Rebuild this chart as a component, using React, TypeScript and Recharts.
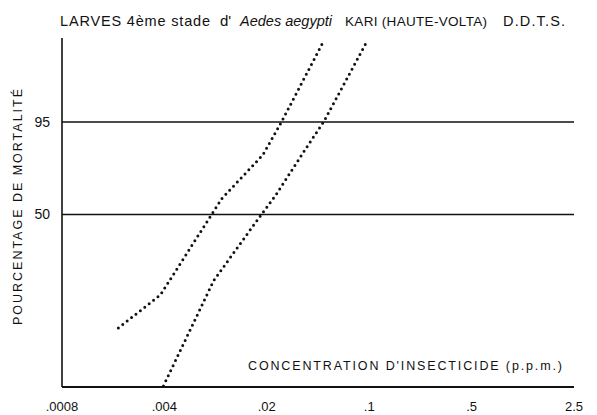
import { LineChart, Line, XAxis, YAxis, ReferenceLine } from 'recharts'

// log-probit plot: x = concentration (p.p.m.), y = mortality in probits (5 = 50 %)
const xTicks = [0.0008, 0.004, 0.02, 0.1, 0.5, 2.5]
const xTickLabels = ['.0008', '.004', '.02', '.1', '.5', '2.5']
const yTicks = [5, 6.645]
const yTickLabels = ['50', '95']

// larval population, left curve
const concA = [0.00194, 0.00376, 0.00984, 0.0188, 0.025, 0.0492]
const probitA = [2.98, 3.57, 5.28, 6.06, 6.63, 8.1]

// right curve
const concB = [0.00394, 0.00867, 0.01555, 0.0231, 0.0371, 0.0492, 0.097]
const probitB = [1.95, 3.82, 4.74, 5.35, 6.18, 6.66, 8.09]

const seriesA = concA.map((c, i) => ({ c, p: probitA[i] }))
const seriesB = concB.map((c, i) => ({ c, p: probitB[i] }))

const FONT = '"Liberation Sans", Arial, sans-serif'

function xLabel(v: number) {
  const i = xTicks.indexOf(v)
  return i >= 0 ? xTickLabels[i] : ''
}

function yLabel(v: number) {
  const i = yTicks.indexOf(v)
  return i >= 0 ? yTickLabels[i] : ''
}

export default function App() {
  return (
    <div style={{ position: 'absolute', left: 0, top: 0, width: 597, height: 415, background: '#fff' }}>
      <LineChart
        width={597}
        height={415}
        margin={{ top: 38, right: 23, bottom: 0, left: 0 }}
        style={{ fontFamily: FONT }}
      >
        <XAxis
          dataKey="c"
          type="number"
          scale="log"
          domain={[0.0008, 2.5]}
          ticks={xTicks}
          tickFormatter={xLabel}
          height={28}
          tickLine={false}
          tickSize={13}
          axisLine={{ stroke: '#111', strokeWidth: 1.8 }}
          tick={{ fontSize: 13, fill: '#111' }}
          allowDataOverflow
        />
        <YAxis
          type="number"
          domain={[1.93, 8.14]}
          ticks={yTicks}
          tickFormatter={yLabel}
          width={62}
          tickLine={false}
          tickSize={10}
          axisLine={{ stroke: '#111', strokeWidth: 1.6 }}
          tick={{ fontSize: 14, fill: '#111' }}
          allowDataOverflow
        />
        <ReferenceLine y={5} stroke="#111" strokeWidth={1.6} />
        <ReferenceLine y={6.645} stroke="#111" strokeWidth={1.6} />
        <Line
          data={seriesA}
          dataKey="p"
          type="linear"
          stroke="#111"
          strokeWidth={3}
          strokeDasharray="0 5.6"
          strokeLinecap="round"
          dot={false}
          isAnimationActive={false}
        />
        <Line
          data={seriesB}
          dataKey="p"
          type="linear"
          stroke="#111"
          strokeWidth={3}
          strokeDasharray="0 5.6"
          strokeLinecap="round"
          dot={false}
          isAnimationActive={false}
        />
      </LineChart>
      <svg
        width={597}
        height={415}
        style={{ position: 'absolute', left: 0, top: 0, pointerEvents: 'none', fontFamily: FONT }}
      >
        <g fill="#111" fontSize={14.5}>
          <text x={60} y={26} textLength={150} lengthAdjust="spacing">LARVES 4ème stade</text>
          <text x={220} y={26} fontSize={15}>d'</text>
          <text x={240} y={26} fontStyle="italic" textLength={92} lengthAdjust="spacing">
            Aedes aegypti
          </text>
          <text x={345} y={26} fontSize={13.5} textLength={142} lengthAdjust="spacing">
            KARI (HAUTE-VOLTA)
          </text>
          <text x={503} y={26} textLength={62} lengthAdjust="spacing">D.D.T.S.</text>
        </g>
        <text x={248} y={370} fontSize={12.5} textLength={314} lengthAdjust="spacing" fill="#111">
          CONCENTRATION D'INSECTICIDE  (p.p.m.)
        </text>
        <text
          x={0}
          y={0}
          transform="translate(22 207) rotate(-90)"
          textAnchor="middle"
          fontSize={12.5}
          textLength={236}
          lengthAdjust="spacing"
          fill="#111"
        >
          POURCENTAGE DE MORTALITÉ
        </text>
      </svg>
    </div>
  )
}
